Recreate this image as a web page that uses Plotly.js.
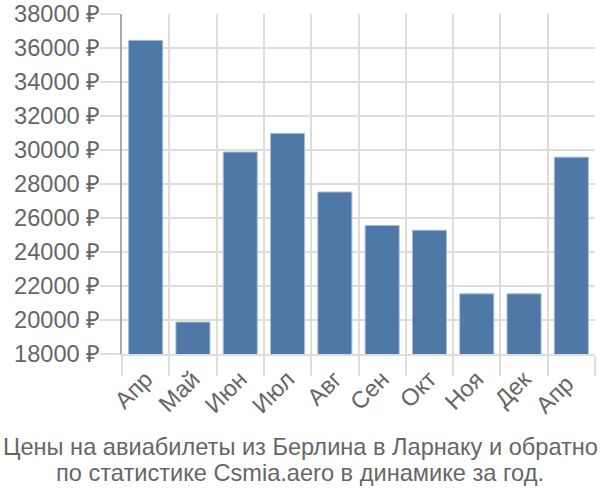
<!DOCTYPE html>
<html>
<head>
<meta charset="utf-8">
<script src="https://cdn.plot.ly/plotly-3.0.1.min.js"></script>
<style>html,body{margin:0;padding:0;background:#fff;}#chart{width:600px;height:500px;}</style>
</head>
<body>
<div id="chart"></div>
<script>
const months = ["Апр", "Май", "Июн", "Июл", "Авг", "Сен", "Окт", "Ноя", "Дек", "Апр "];
const prices = [36450, 19880, 29880, 30980, 27530, 25560, 25280, 21540, 21540, 29580];
const yTicks = [18000, 20000, 22000, 24000, 26000, 28000, 30000, 32000, 34000, 36000, 38000];
const yTickText = yTicks.map(v => v + " ₽");
const titleLines = ["Цены на авиабилеты из Берлина в Ларнаку и обратно", "по статистике Csmia.aero в динамике за год."];

const font = {family: "Liberation Sans, Arial, sans-serif", size: 23.6, color: "#666666"};
const plotTop = 14, plotBottom = 354, plotH = plotBottom - plotTop;
const lineCenters = [447, 473];

Plotly.newPlot("chart", [{
  type: "bar",
  x: months,
  y: prices,
  marker: {color: "#4e79a7", line: {color: "#a9bdd6", width: 1}},
  width: 0.72,
  hoverinfo: "y"
}], {
  width: 600, height: 500,
  margin: {l: 122, r: 5, t: plotTop, b: 500 - plotBottom},
  paper_bgcolor: "#ffffff",
  plot_bgcolor: "#ffffff",
  font: font,
  showlegend: false,
  annotations: titleLines.map((t, i) => ({
    text: t, showarrow: false,
    xref: "paper", yref: "paper",
    x: (300 - 122) / (600 - 122 - 5), xanchor: "center",
    y: -(lineCenters[i] - plotBottom) / plotH, yanchor: "middle",
    font: font
  })),
  xaxis: {
    type: "category",
    tickson: "boundaries",
    ticks: "outside", ticklen: 20, tickcolor: "#dddddd", tickwidth: 2,
    showgrid: true, gridcolor: "#dddddd", gridwidth: 2,
    showline: true, linecolor: "#dddddd", linewidth: 2,
    tickangle: -45,
    tickfont: font
  },
  yaxis: {
    range: [18000, 38000],
    tickvals: yTicks,
    ticktext: yTickText,
    ticks: "outside", ticklen: 20, tickcolor: "#dddddd", tickwidth: 2,
    ticklabelstandoff: -5,
    showgrid: true, gridcolor: "#dddddd", gridwidth: 2,
    showline: true, linecolor: "#aaaaaa", linewidth: 2,
    zeroline: false,
    tickfont: font
  }
}, {displayModeBar: false, staticPlot: true});
</script>
</body>
</html>
